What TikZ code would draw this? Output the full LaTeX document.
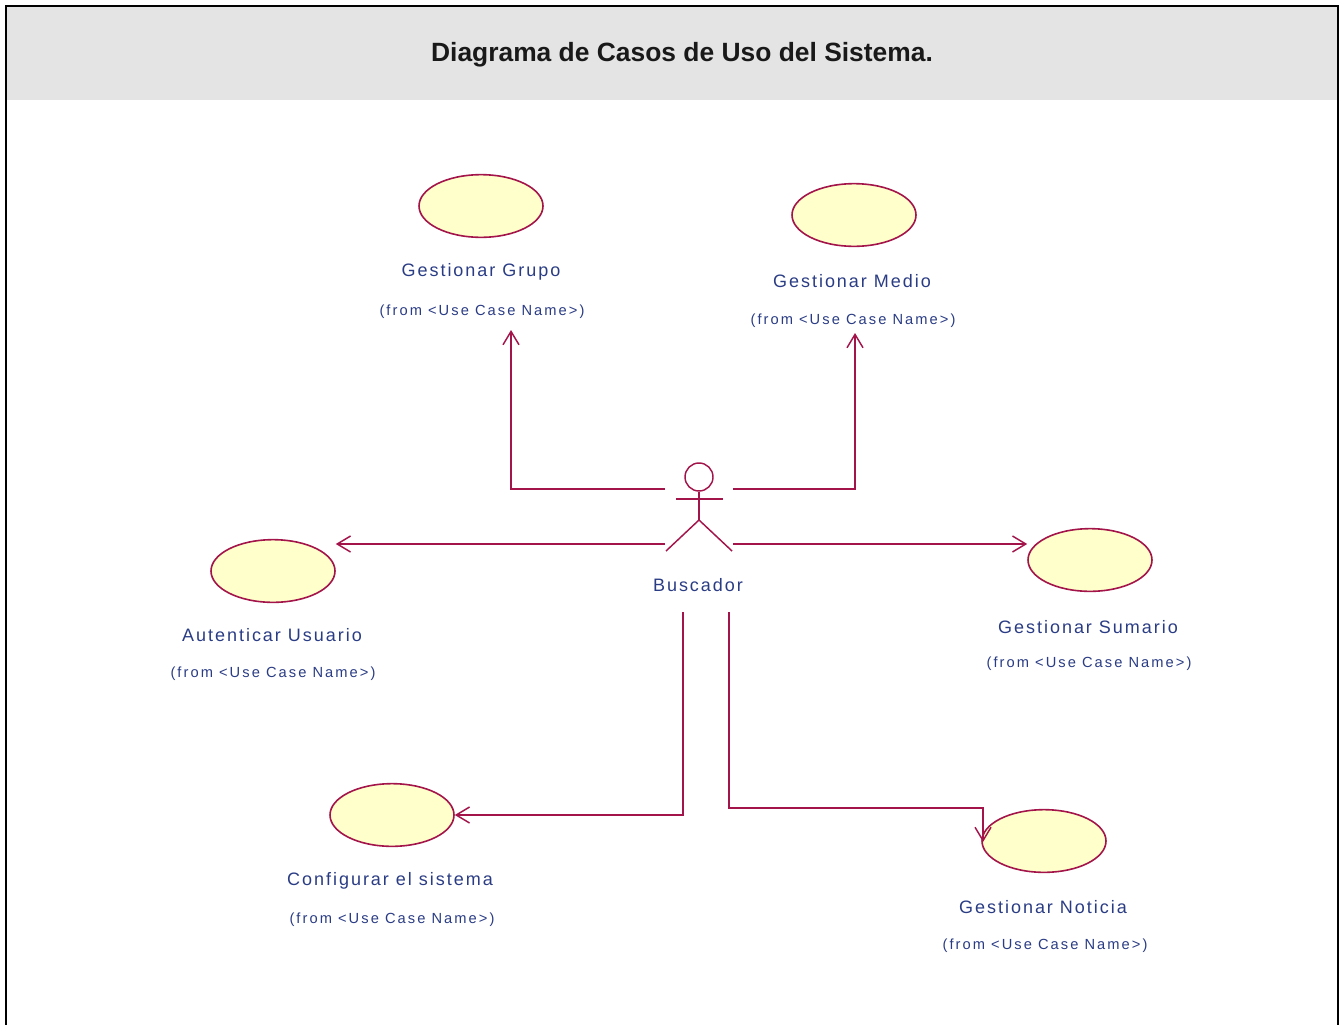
\documentclass[tikz,border=0pt]{standalone}
\usepackage{fontspec}
\setmainfont{Liberation Sans}
\newfontfamily\ucfont[LetterSpace=11]{Liberation Sans}
\newfontfamily\fromfont[LetterSpace=14]{Liberation Sans}
\usetikzlibrary{arrows.meta,shapes.geometric}
\definecolor{umlline}{HTML}{A3154A}
\definecolor{umlfill}{HTML}{FFFFCC}
\definecolor{umltext}{HTML}{2A3C84}
\definecolor{headgray}{HTML}{E4E4E4}
\tikzset{
  usecase/.style={ellipse, draw=umlline, fill=umlfill, line width=1.2pt,
    minimum width=93pt, minimum height=47pt, inner sep=0pt},
  ucname/.style={text=umltext, font=\ucfont\fontsize{13.5}{16}\selectfont, inner sep=0pt},
  ucfrom/.style={text=umltext, font=\fromfont\fontsize{11}{13}\selectfont, inner sep=0pt},
  assoc/.style={draw=umlline, line width=1.1pt,
    -{Straight Barb[length=10pt,width=12pt,line width=1.1pt]}},
  actorline/.style={draw=umlline, line width=1.1pt}
}
\begin{document}
\begin{tikzpicture}[x=0.75pt,y=-0.75pt]
\useasboundingbox (0,0) rectangle (1344,1024);
% frame and header band
\fill[headgray] (6,6) rectangle (1338,100);
\draw[black, line width=2pt] (6,1030) -- (6,6) -- (1338,6) -- (1338,1030);
\node[font=\bfseries\fontsize{19.8}{23}\selectfont, text=black!90] (title) at (682,55) {Diagrama de Casos de Uso del Sistema.};

% actor
\node[circle, draw=umlline, line width=1.1pt, minimum size=21pt, inner sep=0pt] (head) at (699,477) {};
\coordinate (hip) at (699,520);
\draw[actorline] (head.south) -- (hip);
\draw[actorline] (676,499) -- (723,499);
\draw[actorline] (hip) -- (666,551);
\draw[actorline] (hip) -- (732,551);
\node[ucname] (buscador) at (698,585) {Buscador};

% use cases
\node[usecase] (grupo) at (481,206) {};
\node[ucname] (grupoL) at (481,272) {Gestionar Grupo};
\node[ucfrom] (grupoF) at (482,312) {(from <Use Case Name>)};

\node[usecase] (medio) at (854,215) {};
\node[ucname] (medioL) at (852,281) {Gestionar Medio};
\node[ucfrom] (medioF) at (853,321) {(from <Use Case Name>)};

\node[usecase] (auten) at (273,571) {};
\node[ucname] (autenL) at (272,635) {Autenticar Usuario};
\node[ucfrom] (autenF) at (273,674) {(from <Use Case Name>)};

\node[usecase] (sumario) at (1090,560) {};
\node[ucname] (sumarioL) at (1088,627) {Gestionar Sumario};
\node[ucfrom] (sumarioF) at (1089,664) {(from <Use Case Name>)};

\node[usecase] (config) at (392,815) {};
\node[ucname] (configL) at (390,881) {Configurar el sistema};
\node[ucfrom] (configF) at (392,920) {(from <Use Case Name>)};

\node[usecase] (noticia) at (1044,841) {};
\node[ucname] (noticiaL) at (1043,907) {Gestionar Noticia};
\node[ucfrom] (noticiaF) at (1045,946) {(from <Use Case Name>)};

% connector anchor points around the actor
\coordinate (aUL) at (665,489);
\coordinate (aUR) at (733,489);
\coordinate (aML) at (665,544);
\coordinate (aMR) at (733,544);
\coordinate (aBL) at (683,612);
\coordinate (aBR) at (729,612);

% associations
\draw[assoc] (aUL) -- (511,489) -- (511,330);
\draw[assoc] (aUR) -- (855,489) -- (855,333);
\draw[assoc] (aML) -- (auten.east |- aML);
\draw[assoc] (aMR) -- (sumario.west |- aMR);
\draw[assoc] (aBL) -- (683,815) -- (config.east);
\draw[assoc] (aBR) -- (729,808) -- (983,808) -- (983,842);
\end{tikzpicture}
\end{document}
